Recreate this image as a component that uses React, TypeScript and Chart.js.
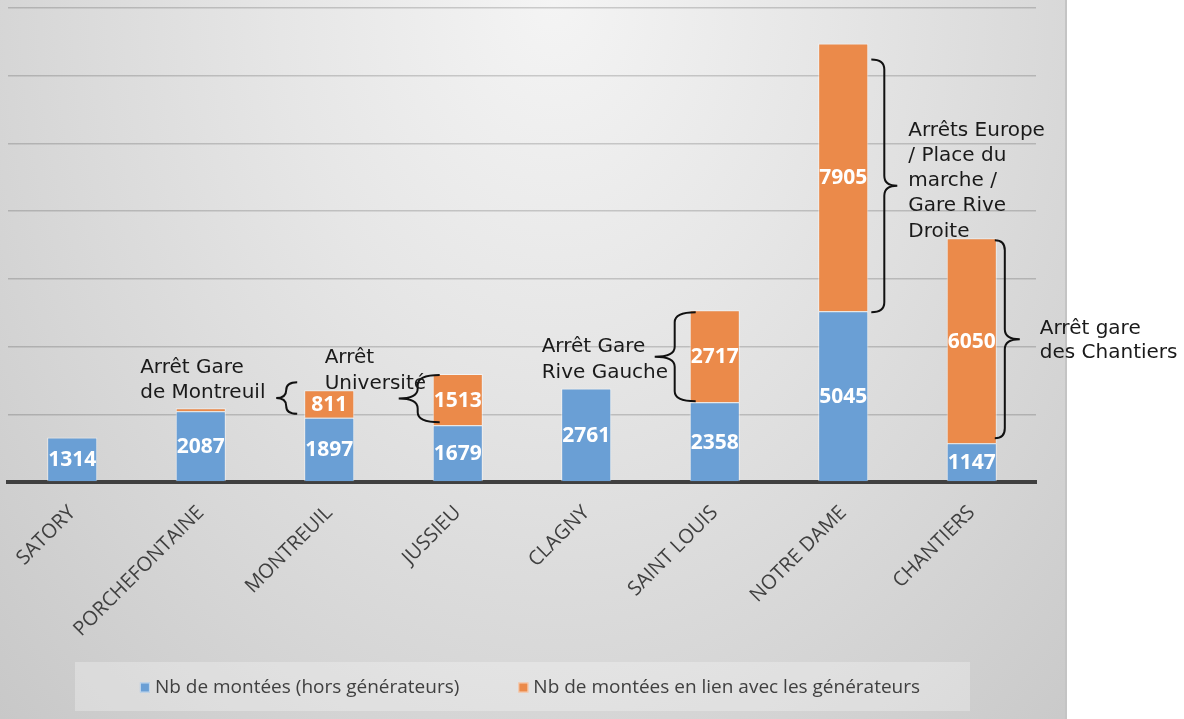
import React, { useEffect, useRef } from 'react';
import { Chart, registerables } from 'chart.js';

Chart.register(...registerables);

// ---------- data ----------
const categories = ['SATORY', 'PORCHEFONTAINE', 'MONTREUIL', 'JUSSIEU', 'CLAGNY', 'SAINT LOUIS', 'NOTRE DAME', 'CHANTIERS'];
const horsGenerateurs = [1314, 2087, 1897, 1679, 2761, 2358, 5045, 1147];
const lienGenerateurs = [0, 90, 811, 1513, 0, 2717, 7905, 6050];
const seriesNames = ['Nb de montées (hors générateurs)', 'Nb de montées en lien avec les générateurs'];
const yMax = 14000;
const yStep = 2000;

// annotation texts (brace callouts on the orange segments)
const noteIndexes = [2, 3, 5, 6, 7];
const noteTexts = [
  ['Arrêt Gare', 'de Montreuil'],
  ['Arrêt', 'Université'],
  ['Arrêt Gare', 'Rive Gauche'],
  ['Arrêts Europe', '/ Place du', 'marche /', 'Gare Rive', 'Droite'],
  ['Arrêt gare', 'des Chantiers'],
];

// ---------- styles ----------
const BLUE = '#6a9fd5';
const ORANGE = '#eb8a4a';
const TEXT = '#404040';

type NoteStyle = { side: number; gap: number; arm: number; tip: number; padTop: number; padBottom: number; dx: number; dy: number; lh: number };
// side: -1 = brace on the left of the bar, +1 = on the right
const noteStyles: NoteStyle[] = [
  { side: -1, gap: 7, arm: 11, tip: 10, padTop: -8, padBottom: -4, dx: -136, dy: -25.5, lh: 25.5 },
  { side: -1, gap: -7, arm: 22, tip: 19, padTop: 1, padBottom: -3, dx: -74, dy: -35.5, lh: 25.5 },
  { side: -1, gap: -6, arm: 21, tip: 20, padTop: 2, padBottom: -1, dx: -113, dy: -4.5, lh: 25.5 },
  { side: 1, gap: 3, arm: 13, tip: 13, padTop: 16, padBottom: 1, dx: 11, dy: -50, lh: 25.2 },
  { side: 1, gap: -2, arm: 10, tip: 15, padTop: 2, padBottom: -5, dx: 20, dy: -5, lh: 24 },
];

function drawBrace(ctx: CanvasRenderingContext2D, xe: number, xv: number, xt: number, y1: number, y2: number) {
  const ym = (y1 + y2) / 2;
  const r = Math.min(10, (y2 - y1) / 4);
  ctx.beginPath();
  ctx.moveTo(xe, y1);
  ctx.quadraticCurveTo(xv, y1, xv, y1 + r);
  ctx.lineTo(xv, ym - r);
  ctx.quadraticCurveTo(xv, ym, xt, ym);
  ctx.quadraticCurveTo(xv, ym, xv, ym + r);
  ctx.lineTo(xv, y2 - r);
  ctx.quadraticCurveTo(xv, y2, xe, y2);
  ctx.stroke();
}

const overlayPlugin = {
  id: 'overlay',
  afterDatasetsDraw(chart: any) {
    const ctx: CanvasRenderingContext2D = chart.ctx;
    const yScale = chart.scales.y;
    ctx.save();
    // value labels
    ctx.font = 'bold 21px "Open Sans"';
    ctx.fillStyle = '#ffffff';
    ctx.textAlign = 'center';
    ctx.textBaseline = 'middle';
    chart.data.datasets.forEach((ds: any, di: number) => {
      const meta = chart.getDatasetMeta(di);
      meta.data.forEach((bar: any, i: number) => {
        const v = ds.data[i];
        if (v < 300) return;
        const { x, y, base } = bar.getProps(['x', 'y', 'base'], true);
        ctx.fillText(String(v), x, (y + base) / 2 + 1);
      });
    });

    // braces and callout texts
    const metaOrange = chart.getDatasetMeta(1);
    ctx.strokeStyle = '#111111';
    ctx.lineWidth = 2;
    ctx.fillStyle = '#1a1a1a';
    ctx.font = '20px "DejaVu Sans"';
    ctx.textAlign = 'left';
    ctx.textBaseline = 'alphabetic';
    noteIndexes.forEach((idx, k) => {
      const st = noteStyles[k];
      const bar = metaOrange.data[idx];
      const { x, width } = bar.getProps(['x', 'width'], true);
      const top = yScale.getPixelForValue(horsGenerateurs[idx] + lienGenerateurs[idx]);
      const bottom = yScale.getPixelForValue(horsGenerateurs[idx]);
      const edge = x + st.side * width / 2;
      const xe = edge + st.side * st.gap;
      const xv = xe + st.side * st.arm;
      const xt = xv + st.side * st.tip;
      const y1 = top + st.padTop;
      const y2 = bottom + st.padBottom;
      drawBrace(ctx, xe, xv, xt, y1, y2);
      const ym = (y1 + y2) / 2;
      noteTexts[k].forEach((line, li) => {
        ctx.fillText(line, xt + st.dx, ym + st.dy + li * st.lh);
      });
    });
    ctx.restore();
  },
  afterDraw(chart: any) {
    // legend
    const ctx: CanvasRenderingContext2D = chart.ctx;
    const area = chart.chartArea;
    const cx = (area.left + area.right) / 2;
    const boxL = cx - 447;
    const boxR = cx + 448;
    const boxT = 662;
    const boxB = 711;
    ctx.save();
    ctx.fillStyle = 'rgba(255,255,255,0.28)';
    ctx.fillRect(boxL, boxT, boxR - boxL, boxB - boxT);
    ctx.font = '19px "Open Sans"';
    ctx.textBaseline = 'middle';
    ctx.textAlign = 'left';
    const sq = 10;
    const gapSq = 5;
    const gapItem = 59;
    const widths = chart.data.datasets.map((ds: any) => ctx.measureText(ds.label).width);
    const total = widths.reduce((a: number, w: number) => a + sq + gapSq + w, 0) + gapItem * (widths.length - 1);
    let x = cx - total / 2 + 8;
    const yMid = (boxT + boxB) / 2 + 1;
    chart.data.datasets.forEach((ds: any, i: number) => {
      ctx.fillStyle = ds.backgroundColor;
      ctx.fillRect(x, yMid - sq / 2, sq, sq);
      ctx.strokeStyle = 'rgba(255,255,255,0.6)';
      ctx.lineWidth = 1;
      ctx.strokeRect(x + 0.5, yMid - sq / 2 + 0.5, sq - 1, sq - 1);
      x += sq + gapSq;
      ctx.fillStyle = TEXT;
      ctx.fillText(ds.label, x, yMid);
      x += widths[i] + gapItem;
    });
    ctx.restore();
  },
};

export default function App() {
  const canvasRef = useRef<HTMLCanvasElement | null>(null);

  useEffect(() => {
    if (!canvasRef.current) return;
    const chart = new Chart(canvasRef.current, {
      type: 'bar',
      data: {
        labels: categories,
        datasets: [
          {
            label: seriesNames[0],
            data: horsGenerateurs,
            backgroundColor: BLUE,
            borderColor: 'rgba(255,255,255,0.55)',
            borderWidth: 1,
            barPercentage: 0.39,
            categoryPercentage: 1,
          },
          {
            label: seriesNames[1],
            data: lienGenerateurs,
            backgroundColor: ORANGE,
            borderColor: 'rgba(255,255,255,0.55)',
            borderWidth: 1,
            barPercentage: 0.39,
            categoryPercentage: 1,
          },
        ],
      },
      options: {
        responsive: false,
        animation: false,
        layout: { padding: { left: 8, top: 8, right: 148, bottom: 0 } },
        plugins: {
          legend: { display: false },
          tooltip: { enabled: false },
        },
        scales: {
          x: {
            stacked: true,
            grid: { display: false, drawTicks: false },
            border: { display: true, color: '#404040', width: 4 },
            ticks: {
              color: TEXT,
              font: { family: '"Open Sans"', size: 20 },
              maxRotation: 45,
              minRotation: 45,
              padding: 19,
              autoSkip: false,
            },
            afterFit: (axis: any) => {
              axis.height = 237;
            },
          },
          y: {
            stacked: true,
            min: 0,
            max: yMax,
            ticks: { display: false, stepSize: yStep },
            grid: { color: 'rgba(0,0,0,0.17)', lineWidth: 1.5, drawTicks: false },
            border: { display: false },
            afterFit: (axis: any) => {
              axis.width = 0;
            },
          },
        },
      },
      plugins: [overlayPlugin],
    });
    return () => chart.destroy();
  }, []);

  return (
    <div style={{ position: 'absolute', left: 0, top: 0, width: 1184, height: 719, background: '#ffffff', overflow: 'hidden' }}>
      <div
        style={{
          position: 'absolute',
          left: 0,
          top: 0,
          width: 1067,
          height: 719,
          boxSizing: 'border-box',
          borderRight: '2px solid #c4c4c4',
          background: 'radial-gradient(farthest-corner at 52% 0%, #f4f4f4 0%, #e6e6e6 35%, #d6d6d6 70%, #c8c8c8 100%)',
        }}
      />
      <canvas ref={canvasRef} width={1184} height={719} style={{ position: 'absolute', left: 0, top: 0 }} />
    </div>
  );
}
